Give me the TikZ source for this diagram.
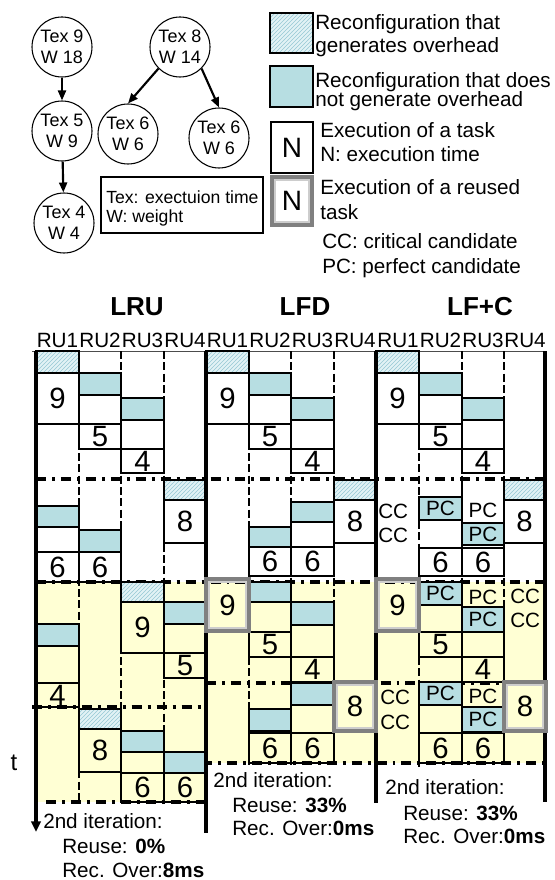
\documentclass[tikz,border=0pt]{standalone}
\usepackage{fontspec}
\setmainfont{Liberation Sans}
\usepackage{xcolor}
\usepackage{tikz}
\usetikzlibrary{
    arrows.meta,
    positioning,
    patterns
}

\definecolor{recfill}{RGB}{183,222,226}
\definecolor{hatchfill}{RGB}{226,242,245}
\definecolor{hatchline}{RGB}{150,200,212}
\definecolor{itfill}{RGB}{255,255,212}
\definecolor{reusegray}{RGB}{128,128,128}
\definecolor{reuselight}{RGB}{205,205,205}

\begin{document}
\begin{tikzpicture}[
        x=0.75pt,
        y=-0.75pt,
        taskcircle/.style={
            circle,
            draw,
            line width=0.8pt,
            minimum size=45pt,
            inner sep=0pt,
            align=center,
            font=\fontsize{13.5}{15.75}\selectfont
        },
        dep/.style={
            -{Triangle[length=7.5pt, width=6pt]},
            line width=1.6pt
        },
        lbl/.style={inner sep=0pt, font=\fontsize{15.5}{18}\selectfont},
        keytext/.style={inner sep=0pt, font=\fontsize{13.2}{15.75}\selectfont},
        num/.style={inner sep=0pt, font=\fontsize{22}{24}\selectfont},
        bignum/.style={inner sep=0pt, font=\fontsize{21}{24}\selectfont},
        algtitle/.style={inner sep=0pt, font=\fontsize{19.5}{22}\selectfont\bfseries},
        box/.style={draw, line width=1.3pt},
        recf/.style={box, fill=recfill},
        hatch/.style={
            box,
            preaction={fill=hatchfill},
            pattern=north east lines,
            pattern color=hatchline
        },
        reused/.style={draw=reusegray, line width=2.4pt},
        reusedin/.style={draw=reuselight, line width=0.8pt},
        divider/.style={line width=1.4pt, dash pattern=on 6pt off 2.5pt},
        phase/.style={line width=2.4pt, dash pattern=on 7.5pt off 4.5pt on 2.2pt off 4.5pt},
        edgeline/.style={line width=2.4pt},
        timeaxis/.style={
            edgeline,
            -{Triangle[length=8pt, width=7pt]}
        }
    ]

    \useasboundingbox (0,0) rectangle (555,880);

    % task graph
    \node[taskcircle] (t9) at (62,47) {Tex 9\\W 18};
    \node[taskcircle] (t5) at (62,131) {Tex 5\\W 9};
    \node[taskcircle] (t4) at (64,223) {Tex 4\\W 4};
    \node[taskcircle] (t8) at (180,47) {Tex 8\\W 14};
    \node[taskcircle] (t6a) at (128,134) {Tex 6\\W 6};
    \node[taskcircle] (t6b) at (219,138) {Tex 6\\W 6};

    \draw[dep] (t9) -- (t5);
    \draw[dep] (t5) -- (t4);
    \draw[dep] (t8.south west) -- (t6a.north);
    \draw[dep] (t8.south east) -- (t6b.north);

    \node[draw, line width=1.1pt, minimum width=121.5pt, minimum height=42pt] (key) at (182,205) {};
    \node[keytext, anchor=base west] (keytex) at (106,204) {Tex: exectuion time};
    \node[keytext, anchor=base west] (keyw) at (106,223) {W: weight};

    % legend
    \draw[hatch] (270,13) rectangle (313,53);
    \draw[recf] (270,66) rectangle (313,107);
    \draw[box] (271,122) rectangle (313,173) node[pos=.5, bignum] (legn) {N};
    \draw[reused] (272,177) rectangle (312,225);
    \draw[reusedin] (275,180) rectangle (309,222);
    \node[bignum] (legrn) at (292,201) {N};

    \node[lbl, anchor=base west] (leg1a) at (315,30) {Reconfiguration that};
    \node[lbl, anchor=base west] (leg1b) at (315,53) {generates overhead};
    \node[lbl, anchor=base west] (leg2a) at (315,88) {Reconfiguration that does};
    \node[lbl, anchor=base west] (leg2b) at (315,107) {not generate overhead};
    \node[lbl, anchor=base west] (leg3a) at (320,138) {Execution of a task};
    \node[lbl, anchor=base west] (leg3b) at (320,162) {N: execution time};
    \node[lbl, anchor=base west] (leg4a) at (320,195) {Execution of a reused};
    \node[lbl, anchor=base west] (leg4b) at (320,220) {task};
    \node[lbl, anchor=base west] (legcc) at (322,249) {CC: critical candidate};
    \node[lbl, anchor=base west] (legpc) at (322,273) {PC: perfect candidate};

    % headers
    \node[algtitle, anchor=base] (lru) at (137,315) {LRU};
    \node[algtitle, anchor=base] (lfd) at (305,315) {LFD};
    \node[algtitle, anchor=base] (lfc) at (480,315) {LF+C};

    \node[lbl, anchor=base] (lruru1) at (57.5,347) {RU1};
    \node[lbl, anchor=base] (lruru2) at (100,347) {RU2};
    \node[lbl, anchor=base] (lruru3) at (142.5,347) {RU3};
    \node[lbl, anchor=base] (lruru4) at (185,347) {RU4};
    \node[lbl, anchor=base] (lfdru1) at (227.5,347) {RU1};
    \node[lbl, anchor=base] (lfdru2) at (270,347) {RU2};
    \node[lbl, anchor=base] (lfdru3) at (312.5,347) {RU3};
    \node[lbl, anchor=base] (lfdru4) at (355,347) {RU4};
    \node[lbl, anchor=base] (lfcru1) at (398,347) {RU1};
    \node[lbl, anchor=base] (lfcru2) at (440.5,347) {RU2};
    \node[lbl, anchor=base] (lfcru3) at (483,347) {RU3};
    \node[lbl, anchor=base] (lfcru4) at (525,347) {RU4};

    % second iteration background
    \fill[itfill] (36,582) rectangle (206,802);
    \fill[itfill] (206,582) rectangle (545,763);

    \draw[line width=0.6pt, gray!60!black] (32,351) -- (545,351);

    \draw[divider] (79,351) -- (79,802);
    \draw[divider] (121,351) -- (121,802);
    \draw[divider] (164,351) -- (164,802);
    \draw[divider] (249,351) -- (249,765);
    \draw[divider] (291,351) -- (291,765);
    \draw[divider] (334,351) -- (334,765);
    \draw[divider] (419,351) -- (419,767);
    \draw[divider] (462,351) -- (462,765);
    \draw[divider] (504,351) -- (504,765);

    \draw[phase] (36,479) -- (545,479);
    \draw[phase] (36,582) -- (545,582);
    \draw[phase] (32,707) -- (206,707);
    \draw[phase] (206,683) -- (545,683);
    \draw[phase] (46,802) -- (206,802);
    \draw[phase] (202,763) -- (545,763);

    % LRU
    \draw[hatch] (36,351) rectangle (79,373);
    \draw[box] (36,373) rectangle (79,424) node[pos=.5, num] (lru9) {9};
    \draw[recf] (79,373) rectangle (121,395);
    \draw[box] (79,395) rectangle (121,424);
    \draw[box] (79,424) rectangle (121,449) node[pos=.5, num] (lru5) {5};
    \draw[recf] (121,398) rectangle (164,420);
    \draw[box] (121,420) rectangle (164,449);
    \draw[box] (121,449) rectangle (164,473) node[pos=.5, num] (lru4) {4};
    \draw[hatch] (164,480) rectangle (206,500);
    \draw[box] (164,500) rectangle (206,543) node[pos=.5, num] (lru8) {8};
    \draw[recf] (36,506) rectangle (79,527);
    \draw[box] (36,527) rectangle (79,552);
    \draw[box] (36,552) rectangle (79,582) node[pos=.5, num] (lru6a) {6};
    \draw[recf] (79,530) rectangle (121,552);
    \draw[box] (79,552) rectangle (121,582) node[pos=.5, num] (lru6b) {6};

    \draw[recf] (36,624) rectangle (79,646);
    \draw[box] (36,646) rectangle (79,683);
    \draw[box] (36,683) rectangle (79,707) node[pos=.5, num] (lru4b) {4};
    \draw[hatch] (79,709) rectangle (121,729);
    \draw[box] (79,729) rectangle (121,772) node[pos=.5, num] (lru8b) {8};
    \draw[hatch] (121,582) rectangle (164,602);
    \draw[box] (121,602) rectangle (164,653) node[pos=.5, num] (lru9b) {9};
    \draw[recf] (121,731) rectangle (164,752);
    \draw[box] (121,752) rectangle (164,773);
    \draw[box] (121,773) rectangle (164,802) node[pos=.5, num] (lru6c) {6};
    \draw[recf] (164,602) rectangle (206,624);
    \draw[box] (164,624) rectangle (206,653);
    \draw[box] (164,653) rectangle (206,678) node[pos=.5, num] (lru5b) {5};
    \draw[recf] (164,752) rectangle (206,773);
    \draw[box] (164,773) rectangle (206,802) node[pos=.5, num] (lru6d) {6};

    % LFD
    \draw[hatch] (206,351) rectangle (249,373);
    \draw[box] (206,373) rectangle (249,424) node[pos=.5, num] (lfd9) {9};
    \draw[recf] (249,373) rectangle (291,395);
    \draw[box] (249,395) rectangle (291,424);
    \draw[box] (249,424) rectangle (291,449) node[pos=.5, num] (lfd5) {5};
    \draw[recf] (291,398) rectangle (334,420);
    \draw[box] (291,420) rectangle (334,449);
    \draw[box] (291,449) rectangle (334,473) node[pos=.5, num] (lfd4) {4};
    \draw[hatch] (334,480) rectangle (376,500);
    \draw[box] (334,500) rectangle (376,543) node[pos=.5, num] (lfd8) {8};
    \draw[recf] (291,502) rectangle (334,522);
    \draw[box] (291,522) rectangle (334,547);
    \draw[box] (291,547) rectangle (334,576) node[pos=.5, num] (lfd6a) {6};
    \draw[recf] (249,527) rectangle (291,547);
    \draw[box] (249,547) rectangle (291,576) node[pos=.5, num] (lfd6b) {6};

    \draw[recf] (249,582) rectangle (291,602);
    \draw[box] (249,602) rectangle (291,632);
    \draw[box] (249,632) rectangle (291,657) node[pos=.5, num] (lfd5b) {5};
    \draw[recf] (291,602) rectangle (334,625);
    \draw[box] (291,625) rectangle (334,657);
    \draw[box] (291,657) rectangle (334,682) node[pos=.5, num] (lfd4b) {4};
    \draw[recf] (291,683) rectangle (334,705);
    \draw[box] (291,705) rectangle (334,733);
    \draw[box] (291,733) rectangle (334,763) node[pos=.5, num] (lfd6c) {6};
    \draw[recf] (249,709) rectangle (291,731);
    \draw[box] (249,733) rectangle (291,763) node[pos=.5, num] (lfd6d) {6};

    % LF+C
    \draw[hatch] (376,351) rectangle (419,373);
    \draw[box] (376,373) rectangle (419,424) node[pos=.5, num] (lfc9) {9};
    \draw[recf] (419,373) rectangle (462,395);
    \draw[box] (419,395) rectangle (462,424);
    \draw[box] (419,424) rectangle (462,449) node[pos=.5, num] (lfc5) {5};
    \draw[recf] (462,398) rectangle (504,420);
    \draw[box] (462,420) rectangle (504,449);
    \draw[box] (462,449) rectangle (504,473) node[pos=.5, num] (lfc4) {4};
    \draw[hatch] (504,480) rectangle (545,500);
    \draw[box] (504,500) rectangle (545,543) node[pos=.5, num] (lfc8) {8};
    \draw[box] (462,480) -- (462,497);
    \draw[recf] (419,497) rectangle (462,520) node[pos=.5, lbl] (lfcpc1) {PC};
    \draw[recf] (462,523) rectangle (504,545) node[pos=.5, lbl] (lfcpc2) {PC};
    \draw[box] (419,548) rectangle (462,576) node[pos=.5, num] (lfc6a) {6};
    \draw[box] (462,548) rectangle (504,576) node[pos=.5, num] (lfc6b) {6};
    \node[lbl, anchor=west] (lfccc1) at (378,511) {CC};
    \node[lbl, anchor=west] (lfccc2) at (378,535) {CC};
    \node[lbl] (lfcpc3) at (483,510) {PC};

    \draw[recf] (419,582) rectangle (462,605) node[pos=.5, lbl] (lfcpc4) {PC};
    \draw[box] (419,605) rectangle (462,632);
    \draw[box] (419,632) rectangle (462,657) node[pos=.5, num] (lfc5b) {5};
    \draw[recf] (462,607) rectangle (504,632) node[pos=.5, lbl] (lfcpc5) {PC};
    \draw[box] (462,632) rectangle (504,657);
    \draw[box] (462,657) rectangle (504,682) node[pos=.5, num] (lfc4b) {4};
    \node[lbl] (lfcpc6) at (483,597) {PC};
    \node[lbl, anchor=west] (lfccc3) at (510,596) {CC};
    \node[lbl, anchor=west] (lfccc4) at (510,620) {CC};
    \node[lbl, anchor=west] (lfccc5) at (380,697) {CC};
    \node[lbl, anchor=west] (lfccc6) at (380,722) {CC};
    \draw[recf] (419,682) rectangle (462,705) node[pos=.5, lbl] (lfcpc7) {PC};
    \draw[box] (419,705) rectangle (462,733);
    \node[lbl] (lfcpc8) at (483,696) {PC};
    \draw[recf] (462,707) rectangle (504,732) node[pos=.5, lbl] (lfcpc9) {PC};
    \draw[box] (419,733) rectangle (462,763) node[pos=.5, num] (lfc6c) {6};
    \draw[box] (462,733) rectangle (504,763) node[pos=.5, num] (lfc6d) {6};

    % block edges and time axis
    \coordinate (tstart) at (36,351);
    \coordinate (tend) at (36,832);
    \draw[timeaxis] (tstart) -- (tend);
    \draw[edgeline] (206,351) -- (206,833);
    \draw[edgeline] (376,351) -- (376,803);
    \draw[edgeline] (545,351) -- (545,802);
    \node[inner sep=0pt, font=\fontsize{18}{20}\selectfont] (tlabel) at (14,763) {t};

    % reused tasks
    \draw[reused] (206,579) rectangle (249,631);
    \draw[reusedin] (209,582) rectangle (246,628) node[pos=.5, num] (lfd9b) {9};
    \draw[reused] (334,682) rectangle (376,731);
    \draw[reusedin] (337,685) rectangle (373,728) node[pos=.5, num] (lfd8b) {8};
    \draw[reused] (376,579) rectangle (419,631);
    \draw[reusedin] (379,582) rectangle (416,628) node[pos=.5, num] (lfc9b) {9};
    \draw[reused] (504,682) rectangle (546,731);
    \draw[reusedin] (507,685) rectangle (543,728) node[pos=.5, num] (lfc8b) {8};

    % results
    \node[lbl, anchor=base west] (lruit) at (43,828) {2nd iteration:};
    \node[lbl, anchor=base west] (lrureuse) at (62,853) {Reuse: \textbf{0\%}};
    \node[lbl, anchor=base west] (lruover) at (62,877) {Rec. Over:\textbf{8ms}};
    \node[lbl, anchor=base west] (lfdit) at (213,787) {2nd iteration:};
    \node[lbl, anchor=base west] (lfdreuse) at (232,812) {Reuse: \textbf{33\%}};
    \node[lbl, anchor=base west] (lfdover) at (232,835) {Rec. Over:\textbf{0ms}};
    \node[lbl, anchor=base west] (lfcit) at (385,794) {2nd iteration:};
    \node[lbl, anchor=base west] (lfcreuse) at (403,820) {Reuse: \textbf{33\%}};
    \node[lbl, anchor=base west] (lfcover) at (403,843) {Rec. Over:\textbf{0ms}};

    \end{tikzpicture}
\end{document}
